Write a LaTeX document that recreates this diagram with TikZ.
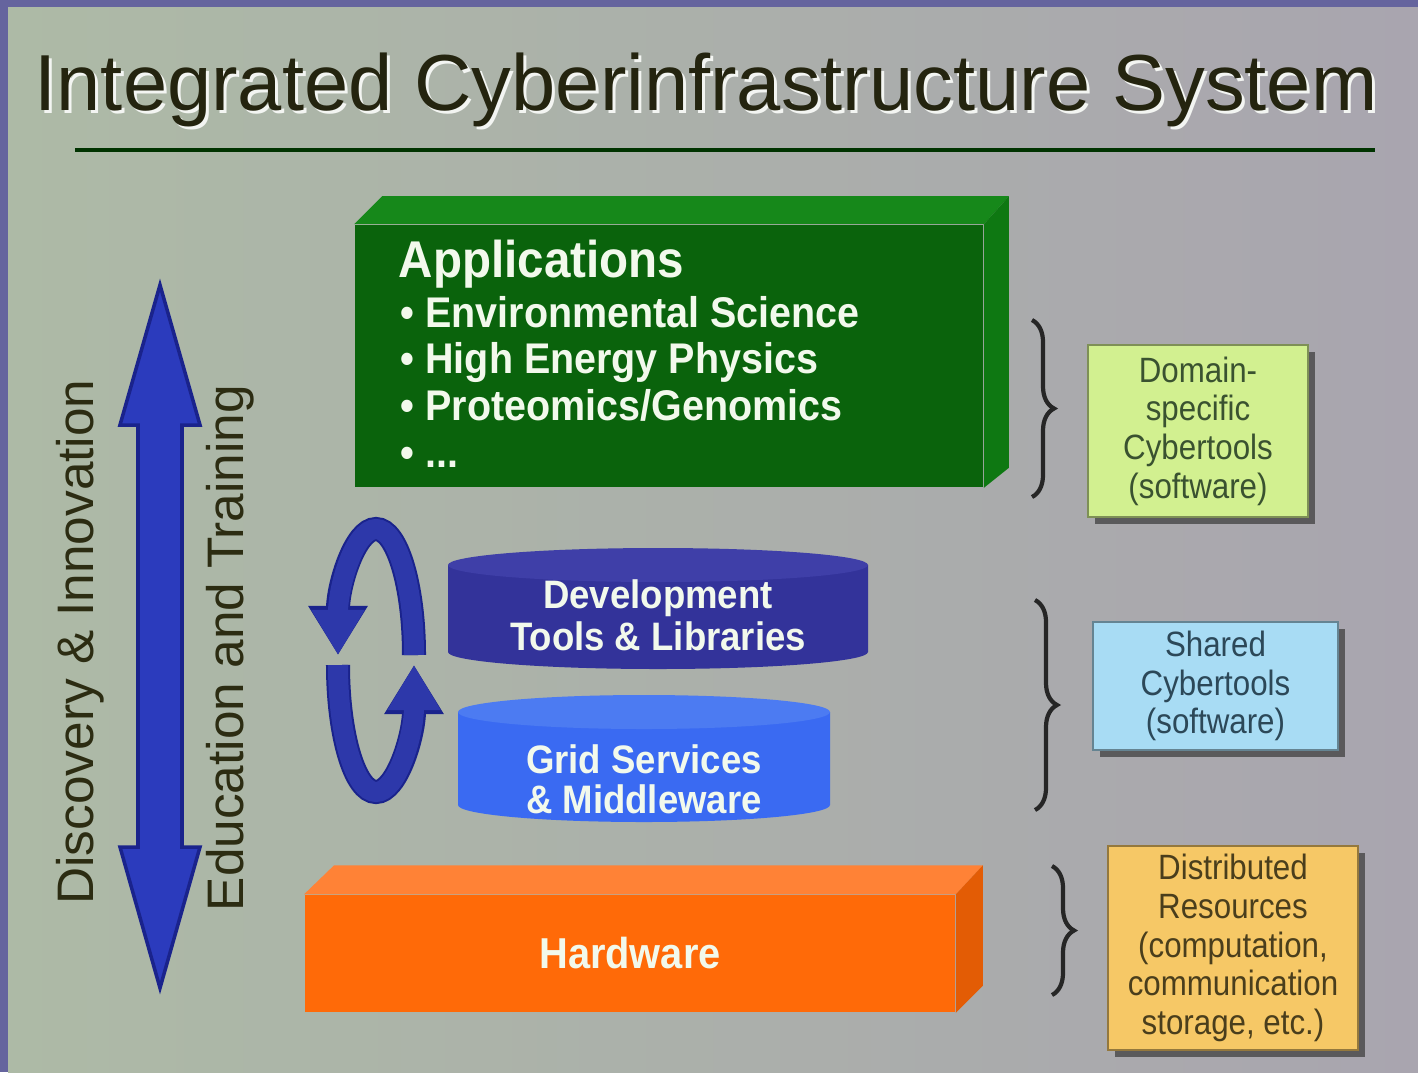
\documentclass[tikz,border=0pt]{standalone}
\usepackage{fontspec}
\setmainfont{Liberation Sans}
\newfontfamily\nb[FakeStretch=0.92]{Liberation Sans}
\newfontfamily\nc[FakeStretch=0.89]{Liberation Sans}
\usetikzlibrary{arrows.meta,decorations.pathreplacing,shadows}

\definecolor{framec}{HTML}{65649E}
\definecolor{bgA}{HTML}{ADBAA6}
\definecolor{bgB}{HTML}{A9A5AF}
\definecolor{titlec}{HTML}{24240F}
\definecolor{appfront}{HTML}{0A630C}
\definecolor{apptop}{HTML}{16881A}
\definecolor{appside}{HTML}{0E7812}
\definecolor{hwfront}{HTML}{FF6A08}
\definecolor{hwtop}{HTML}{FF8236}
\definecolor{hwside}{HTML}{E35C05}
\definecolor{devbody}{HTML}{33339A}
\definecolor{devtop}{HTML}{3F3FA8}
\definecolor{gridbody}{HTML}{3A6AF2}
\definecolor{gridtop}{HTML}{4C7BF2}
\definecolor{arrowblue}{HTML}{2B3BBD}
\definecolor{arrowedge}{HTML}{1A238C}
\definecolor{loopblue}{HTML}{2D38AA}
\definecolor{limec}{HTML}{D2F090}
\definecolor{skyc}{HTML}{A8DCF4}
\definecolor{goldc}{HTML}{F6C866}
\definecolor{limetext}{HTML}{3A5230}
\definecolor{skytext}{HTML}{2C4858}
\definecolor{goldtext}{HTML}{4A3E1C}
\definecolor{textlight}{HTML}{F2F9EC}
\definecolor{sidetext}{HTML}{2C2C12}

\begin{document}
\begin{tikzpicture}[x=0.01cm,y=-0.01cm,
  sidebox/.style={fill=#1, draw=#1!60!black, line width=0.5pt, inner sep=0pt,
    drop shadow={shadow xshift=2pt, shadow yshift=-2pt, fill=black!75, opacity=0.75},
    align=center, font=\nc\fontsize{10}{11}\selectfont},
  bullet/.style={anchor=base west, inner sep=0pt, text=textlight, font=\nb\bfseries\fontsize{12.2}{14}\selectfont},
  cyltext/.style={inner sep=0pt, align=center, text=textlight, font=\nb\bfseries\fontsize{11.3}{12}\selectfont},
  sidelabel/.style={anchor=base, rotate=90, inner sep=0pt, text=sidetext, font=\fontsize{14.6}{17}\selectfont},
  bracestyle/.style={decorate, decoration={brace, amplitude=0.22cm}, line width=1.2pt, draw=black!85},
  loopstyle/.style={draw=loopblue, line width=0.2cm, -{Triangle[width=0.5cm,length=0.45cm]}},
  loopedge/.style={draw=arrowedge, line width=0.24cm, -{Triangle[width=0.56cm,length=0.49cm]}}
]
\useasboundingbox (0,0) rectangle (1418,1072);
% background
\fill[framec] (0,0) rectangle (1418,1072);
\shade[left color=bgA, right color=bgB] (8,7) rectangle (1418,1072);

% title
\node[anchor=base west, inner sep=0pt, text=white!85!bgA, font=\fontsize{22.6}{26}\selectfont] (titleshadow) at (37,113) {Integrated Cyberinfrastructure System};
\node[anchor=base west, inner sep=0pt, text=titlec, font=\fontsize{22.6}{26}\selectfont] (title) at (34,110) {Integrated Cyberinfrastructure System};
\coordinate (ruleL) at (75,150);
\coordinate (ruleR) at (1375,150);
\draw[line width=1pt, draw=black!80!green] (ruleL) -- (ruleR);

% Applications block
\node[fill=appfront, minimum width=6.28cm, minimum height=2.62cm, inner sep=0pt] (apps) at (669,356) {};
\fill[apptop] (apps.north west) -- ++(28,-28) -- ([shift={(25,-28)}]apps.north east) -- (apps.north east) -- cycle;
\fill[appside] (apps.north east) -- ++(25,-28) -- ([shift={(25,-20)}]apps.south east) -- (apps.south east) -- cycle;
\node[anchor=base west, inner sep=0pt, text=textlight, font=\nb\bfseries\fontsize{14.7}{17}\selectfont] (appt) at (398,277) {Applications};
\node[bullet] (app1) at (400,327) {• Environmental Science};
\node[bullet] (app2) at (400,373) {• High Energy Physics};
\node[bullet] (app3) at (400,420) {• Proteomics/Genomics};
\node[bullet] (app4) at (400,467) {• ...};

% Development cylinder
\fill[devbody] (448,565) -- (448,652) arc[start angle=180, end angle=0, x radius=210, y radius=17] -- (868,565) -- cycle;
\fill[devtop] (658,565) ellipse[x radius=210, y radius=17];
\node[cyltext] (dev) at (658,615) {Development\\Tools \& Libraries};

% Grid cylinder
\fill[gridbody] (458,712) -- (458,805) arc[start angle=180, end angle=0, x radius=186, y radius=17] -- (830,712) -- cycle;
\fill[gridtop] (644,712) ellipse[x radius=186, y radius=17];
\node[cyltext, font=\nb\bfseries\fontsize{11.3}{11.4}\selectfont] (grid) at (644,779) {Grid Services\\\& Middleware};

% Hardware block
\node[fill=hwfront, minimum width=6.5cm, minimum height=1.17cm, inner sep=0pt, text=textlight, font=\nb\bfseries\fontsize{12.3}{14}\selectfont] (hw) at (630,953.5) {Hardware};
\fill[hwtop] (hw.north west) -- ++(30,-29) -- ([shift={(27,-29)}]hw.north east) -- (hw.north east) -- cycle;
\fill[hwside] (hw.north east) -- ++(27,-29) -- ([shift={(27,-27)}]hw.south east) -- (hw.south east) -- cycle;

% Double arrow
\filldraw[fill=arrowblue, draw=arrowedge, line width=1pt] (160,285) -- (200,425) -- (182,425) -- (182,847) -- (200,847) -- (160,988) -- (120,847) -- (138,847) -- (138,425) -- (120,425) -- cycle;
\node[sidelabel] (disc) at (93,642) {Discovery \& Innovation};
\node[sidelabel] (edu) at (243,648) {Education and Training};

% Loop arrows
\coordinate (loopA) at (414,655);
\coordinate (loopB) at (338,665);
\draw[loopedge] (loopA) arc[start angle=0, end angle=-180, x radius=38, y radius=126];
\draw[loopstyle] (loopA) arc[start angle=0, end angle=-180, x radius=38, y radius=126];
\draw[loopedge] (loopB) arc[start angle=180, end angle=0, x radius=38, y radius=127];
\draw[loopstyle] (loopB) arc[start angle=180, end angle=0, x radius=38, y radius=127];

% Braces
\coordinate (b1t) at (1032,320); \coordinate (b1b) at (1032,497);
\coordinate (b2t) at (1035,600); \coordinate (b2b) at (1035,810);
\coordinate (b3t) at (1052,866); \coordinate (b3b) at (1052,995);
\draw[bracestyle] (b1t) -- (b1b);
\draw[bracestyle] (b2t) -- (b2b);
\draw[bracestyle] (b3t) -- (b3b);

% Right boxes
\node[sidebox=limec, text=limetext, minimum width=2.2cm, minimum height=1.72cm] (dom) at (1198,431) {Domain-\\specific\\Cybertools\\(software)};
\node[sidebox=skyc, text=skytext, minimum width=2.45cm, minimum height=1.28cm] (shared) at (1215.5,686) {Shared\\Cybertools\\(software)};
\node[sidebox=goldc, text=goldtext, minimum width=2.5cm, minimum height=2.04cm] (dist) at (1233,948) {Distributed\\Resources\\(computation,\\communication\\storage, etc.)};
\end{tikzpicture}
\end{document}
